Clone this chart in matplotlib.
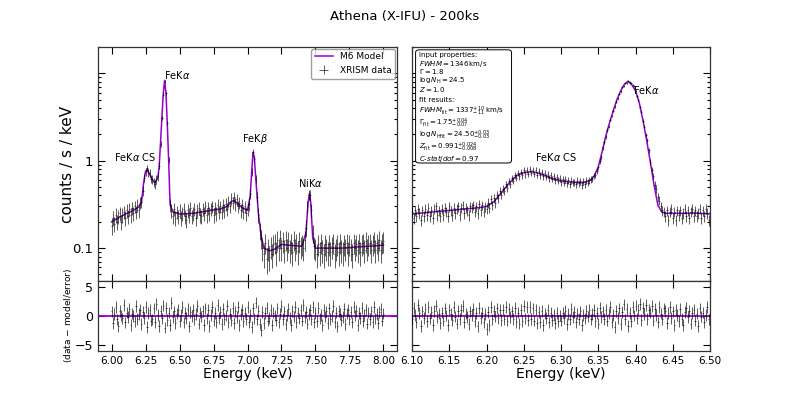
import numpy as np
import matplotlib.pyplot as plt
from matplotlib.patches import FancyBboxPatch
from matplotlib.ticker import FixedLocator, FixedFormatter, LogLocator, NullFormatter, MultipleLocator, FormatStrFormatter

MODEL_COLOR = "#9400d3"

# ---- left panel (6-8 keV) ----
# model curve
left_model_e = [6.00, 6.05, 6.10, 6.15, 6.20, 6.22, 6.235, 6.25, 6.265, 6.28, 6.30, 6.32,
                6.34, 6.35, 6.36, 6.37, 6.38, 6.39, 6.40, 6.41, 6.42, 6.43, 6.45, 6.50,
                6.60, 6.70, 6.80, 6.85, 6.88, 6.90, 6.93, 6.96, 7.00, 7.02, 7.03, 7.04,
                7.05, 7.06, 7.08, 7.10, 7.12, 7.16, 7.20, 7.25, 7.30, 7.40, 7.43, 7.445,
                7.455, 7.465, 7.48, 7.50, 7.60, 7.70, 7.80, 7.90, 8.00]
left_model_v = [0.200, 0.222, 0.245, 0.265, 0.295, 0.33, 0.55, 0.76, 0.79, 0.70, 0.60, 0.56,
                0.64, 0.85, 1.6, 3.1, 5.8, 8.3, 6.0, 2.6, 1.0, 0.32, 0.26, 0.245,
                0.25, 0.265, 0.28, 0.30, 0.34, 0.35, 0.32, 0.29, 0.27, 0.40, 0.72, 1.25,
                1.10, 0.65, 0.25, 0.14, 0.10, 0.093, 0.097, 0.11, 0.108, 0.105, 0.15, 0.32,
                0.42, 0.33, 0.13, 0.10, 0.10, 0.10, 0.103, 0.105, 0.108]

# data: 10 eV bins from 6.00 to 8.00 keV
left_bin_start, left_bin_width = 6.00, 0.01
left_counts = [
    0.18, 0.22, 0.19, 0.24, 0.20, 0.23, 0.25, 0.20, 0.24, 0.26,
    0.22, 0.27, 0.23, 0.28, 0.24, 0.29, 0.25, 0.30, 0.26, 0.31,
    0.27, 0.33, 0.34, 0.45, 0.64, 0.74, 0.82, 0.72, 0.73, 0.62,
    0.61, 0.57, 0.54, 0.61, 0.66, 0.88, 1.55, 3.1, 5.7, 8.1,
    5.9, 2.7, 1.02, 0.31, 0.27, 0.23, 0.28, 0.22, 0.26, 0.23,
    0.27, 0.22, 0.25, 0.28, 0.23, 0.21, 0.27, 0.24, 0.29, 0.23,
    0.25, 0.28, 0.22, 0.27, 0.29, 0.24, 0.23, 0.28, 0.25, 0.30,
    0.24, 0.29, 0.25, 0.28, 0.30, 0.24, 0.29, 0.25, 0.31, 0.26,
    0.30, 0.26, 0.31, 0.27, 0.32, 0.28, 0.34, 0.30, 0.37, 0.33,
    0.38, 0.32, 0.36, 0.30, 0.33, 0.27, 0.31, 0.26, 0.30, 0.25,
    0.28, 0.32, 0.42, 0.75, 1.25, 1.05, 0.62, 0.38, 0.24, 0.16,
    0.13, 0.10, 0.085, 0.115, 0.075, 0.10, 0.08, 0.105, 0.085, 0.11,
    0.115, 0.09, 0.125, 0.10, 0.13, 0.10, 0.12, 0.095, 0.125, 0.10,
    0.12, 0.095, 0.115, 0.09, 0.125, 0.10, 0.115, 0.092, 0.12, 0.105,
    0.11, 0.10, 0.125, 0.17, 0.30, 0.41, 0.40, 0.27, 0.15, 0.105,
    0.10, 0.085, 0.11, 0.09, 0.115, 0.095, 0.085, 0.11, 0.10, 0.09,
    0.11, 0.09, 0.105, 0.115, 0.085, 0.10, 0.11, 0.09, 0.115, 0.095,
    0.09, 0.11, 0.10, 0.115, 0.09, 0.11, 0.10, 0.085, 0.115, 0.10,
    0.11, 0.095, 0.115, 0.09, 0.11, 0.115, 0.095, 0.12, 0.10, 0.11,
    0.115, 0.095, 0.11, 0.12, 0.095, 0.115, 0.10, 0.125, 0.095, 0.115, 0.12,
]
left_resid = [
    0.8, -1.2, 0.3, 1.5, -0.6, -1.8, 0.9, 0.1, -0.4, 1.9,
    -1.1, 0.6, -0.2, 1.2, -1.6, 0.4, 0.0, -0.9, 1.7, -0.5,
    0.3, 1.1, -1.4, 0.7, -0.3, 1.6, -1.9, 0.5, 1.0, -0.8,
    -0.6, 1.3, -1.0, 2.1, 0.2, -1.7, 0.9, -0.4, 1.8, -2.0,
    1.4, -0.7, 0.6, -1.5, 2.2, -0.2, 0.8, -1.2, 0.4, 1.0,
    -0.9, 0.2, 1.5, -1.1, 0.5, -0.3, 1.2, -1.8, 0.7, 0.0,
    1.1, -0.6, 0.3, 1.7, -1.3, 0.6, -0.1, 0.9, -1.5, 1.3,
    -0.4, 1.0, -1.7, 0.2, 1.6, -0.8, 0.5, -1.0, 1.9, -0.3,
    0.7, -1.4, 1.2, -0.5, 0.1, 1.8, -1.1, 0.4, -0.7, 1.4,
    -1.2, 0.8, -0.2, 1.5, -1.6, 0.3, 1.1, -0.9, 0.6, -0.5,
    1.6, -1.0, 0.2, -1.9, 1.3, -0.4, 2.3, -0.6, 0.9, -1.3,
    -2.4, 0.7, -1.2, 0.5, 1.4, -0.8, -0.3, 1.0, -1.5, 0.6,
    0.1, -0.7, 1.3, -1.1, 0.4, 1.7, -0.5, 0.8, -1.4, 0.2,
    1.2, -0.3, -1.6, 0.9, -0.1, 1.5, -1.0, 0.6, -0.4, 1.1,
    -0.8, 1.9, -0.2, 0.7, -1.3, 0.3, 1.0, -0.6, 1.6, -1.1,
    0.5, -0.9, 1.4, -0.4, 0.2, -1.5, 1.1, -0.1, 0.8, -1.2,
    1.3, -0.5, 0.0, 1.7, -1.0, 0.6, -1.8, 0.9, 0.3, -0.7,
    -0.2, 1.2, -1.4, 0.4, 1.0, -0.6, 0.7, -1.1, 1.5, 0.1,
    0.9, -1.6, 0.5, -0.3, 1.4, -0.9, 0.2, 1.1, -1.3, 0.6,
    -0.5, 0.8, -1.0, 1.6, -0.4, 0.3, -1.2, 0.7, 1.2, -0.8,
    0.4,
]

# ---- right panel (6.1-6.5 keV zoom) ----
right_model_e = [6.10, 6.15, 6.19, 6.20, 6.21, 6.22, 6.23, 6.24, 6.25, 6.26, 6.27, 6.28,
                 6.29, 6.30, 6.31, 6.32, 6.33, 6.34, 6.345, 6.35, 6.355, 6.36, 6.365, 6.37,
                 6.375, 6.38, 6.385, 6.39, 6.395, 6.40, 6.405, 6.41, 6.415, 6.42, 6.425, 6.43,
                 6.435, 6.44, 6.46, 6.48, 6.50]
right_model_v = [0.246, 0.27, 0.29, 0.30, 0.34, 0.43, 0.55, 0.67, 0.73, 0.75, 0.72, 0.67,
                 0.62, 0.59, 0.575, 0.565, 0.56, 0.60, 0.68, 0.85, 1.25, 1.9, 2.7, 3.7,
                 5.0, 6.3, 7.5, 8.1, 7.4, 6.3, 4.6, 2.9, 1.7, 0.95, 0.52, 0.31,
                 0.26, 0.25, 0.25, 0.252, 0.246]

# data: 2 eV bins from 6.100 to 6.500 keV
right_bin_start, right_bin_width = 6.10, 0.002
right_counts = [
    0.26, 0.22, 0.27, 0.23, 0.28, 0.25, 0.21, 0.27, 0.23, 0.28,
    0.24, 0.29, 0.23, 0.27, 0.22, 0.28, 0.30, 0.24, 0.27, 0.23,
    0.28, 0.24, 0.29, 0.26, 0.23, 0.30, 0.27, 0.24, 0.29, 0.25,
    0.28, 0.30, 0.24, 0.29, 0.31, 0.25, 0.29, 0.27, 0.24, 0.30,
    0.29, 0.31, 0.26, 0.30, 0.25, 0.32, 0.27, 0.31, 0.26, 0.30,
    0.28, 0.33, 0.29, 0.36, 0.31, 0.37, 0.33, 0.41, 0.37, 0.45,
    0.41, 0.48, 0.45, 0.54, 0.49, 0.58, 0.54, 0.63, 0.59, 0.68,
    0.64, 0.72, 0.66, 0.75, 0.68, 0.78, 0.70, 0.79, 0.71, 0.80,
    0.72, 0.79, 0.71, 0.78, 0.69, 0.76, 0.68, 0.75, 0.66, 0.72,
    0.65, 0.70, 0.63, 0.68, 0.62, 0.66, 0.60, 0.65, 0.59, 0.63,
    0.57, 0.62, 0.56, 0.61, 0.55, 0.60, 0.54, 0.59, 0.56, 0.57,
    0.54, 0.59, 0.55, 0.58, 0.53, 0.58, 0.54, 0.59, 0.56, 0.60,
    0.61, 0.62, 0.67, 0.69, 0.77, 0.84, 0.99, 1.10, 1.42, 1.63,
    1.88, 2.25, 2.45, 2.95, 3.25, 3.75, 4.15, 4.75, 5.15, 5.85,
    6.2, 6.9, 7.2, 7.7, 7.8, 8.2, 7.9, 7.8, 7.4, 7.1,
    6.35, 5.5, 4.95, 4.1, 3.65, 2.85, 2.45, 1.95, 1.72, 1.32,
    0.97, 0.78, 0.67, 0.53, 0.48, 0.38, 0.35, 0.30, 0.27, 0.26,
    0.23, 0.27, 0.21, 0.26, 0.28, 0.22, 0.26, 0.21, 0.27, 0.24,
    0.27, 0.22, 0.25, 0.28, 0.23, 0.27, 0.22, 0.26, 0.28, 0.23,
    0.27, 0.23, 0.25, 0.28, 0.22, 0.27, 0.23, 0.28, 0.25, 0.21, 0.26,
]
right_resid = [
    -0.6, 1.4, 0.2, -1.1, 1.9, 0.5, -1.7, 0.8, -0.3, 1.2,
    -0.9, 1.6, -0.4, 0.7, -1.5, 0.9, 1.8, -0.2, 0.4, -1.2,
    0.6, -0.8, 1.3, 0.1, -1.6, 1.1, 0.3, -0.7, 1.5, -0.1,
    -1.3, 0.9, -0.5, 1.0, 1.7, -1.0, 0.4, -0.2, -1.4, 0.8,
    0.2, 1.2, -0.9, 0.5, -1.8, 1.4, -0.3, 0.6, -1.1, 0.3,
    -2.2, 0.7, -1.5, 1.6, -0.6, 0.9, -0.1, 1.3, -0.4, 1.0,
    -0.7, 1.1, -0.6, 1.5, -0.8, 1.2, -0.2, 0.8, -0.5, 1.4,
    -1.0, 0.6, -1.3, 1.0, -0.9, 1.7, -0.4, 1.5, -0.7, 1.6,
    -0.5, 1.3, -0.8, 1.1, -1.2, 0.7, -1.0, 0.9, -1.5, 0.4,
    -0.3, 1.0, -1.1, 0.6, -0.7, 0.2, -1.2, 0.5, -0.9, 0.1,
    -0.8, 0.6, -0.3, 0.9, -1.4, 0.3, -0.6, 1.2, -0.2, 0.7,
    -1.1, 0.4, -0.5, 0.8, -1.6, 0.2, -0.4, 0.9, -0.1, 1.1,
    -0.6, 0.3, 1.0, -0.9, 0.5, -1.3, 1.4, -0.2, 0.8, -0.5,
    1.1, -0.8, 0.4, 1.6, -1.1, 0.2, -1.9, 0.9, -0.3, 1.3,
    -1.4, 0.7, 2.0, -0.6, 1.2, -1.7, 0.5, -0.9, 1.5, 0.1,
    1.8, -0.4, 1.1, 2.1, -0.7, 1.4, 0.3, 1.9, -0.5, 1.0,
    0.6, 1.7, -0.8, 1.2, 0.2, -1.1, 1.5, 0.4, -0.6, 1.3,
    0.9, -1.2, 0.5, 1.6, -0.3, 0.8, -1.5, 1.0, 0.2, -0.9,
    1.2, -0.5, -1.6, 0.7, 1.4, -0.2, 0.9, -1.3, 0.5, 1.1,
    -0.8, 0.4, -1.7, 1.3, -0.1, 0.6, -1.0, 0.2, 1.5, -0.6,
    0.3,
]

# size of a 1 count/s/keV error bar (Poisson-like scaling)
left_err_unit = 0.09
right_err_unit = 0.07

info_lines = [
    "Input properties:",
    r"$FWHM = 1346\,\mathrm{km/s}$",
    r"$\Gamma = 1.8$",
    r"$\log N_\mathrm{H} = 24.5$",
    r"$Z = 1.0$",
    "fit results:",
    r"$FWHM_\mathrm{fit} = 1337^{+10}_{-11}\ \mathrm{km/s}$",
    r"$\Gamma_\mathrm{fit} = 1.75^{+0.04}_{-0.07}$",
    r"$\log N_\mathrm{Hfit} = 24.50^{+0.03}_{-0.03}$",
    r"$Z_\mathrm{fit} = 0.991^{+0.024}_{-0.008}$",
    r"$C\text{-}stat/dof = 0.97$",
]
# vertical position of each info line (axes fraction)
info_y = [0.9658, 0.9295, 0.8932, 0.8568, 0.8205,
          0.7735, 0.7265, 0.6752, 0.6239, 0.5726, 0.5256]


def bin_centres(start, width, n):
    return np.round(start + width * np.arange(n), 4)


def style_axes(ax):
    ax.tick_params(which="both", direction="in", top=True, right=True,
                   labelsize=7.5, width=0.8)
    ax.tick_params(which="major", length=5)
    ax.tick_params(which="minor", length=2.5)
    for sp in ax.spines.values():
        sp.set_linewidth(0.9)
        sp.set_color("#333333")


def draw_spectrum(ax, axr, e, counts, resid, width, err_unit, m_e, m_v):
    counts = np.array(counts)
    err = err_unit * np.sqrt(counts)
    ax.plot(m_e, m_v, color=MODEL_COLOR, lw=1.1, zorder=2, label="M6 Model")
    ax.errorbar(e, counts, yerr=err, xerr=width / 2, fmt="none", ecolor="black",
                elinewidth=0.6, alpha=0.75, zorder=3, label="XRISM data")
    axr.axhline(0, color=MODEL_COLOR, lw=1.3, zorder=2)
    axr.errorbar(e, resid, yerr=1.0, xerr=width / 2, fmt="none", ecolor="black",
                 elinewidth=0.6, alpha=0.75, zorder=3)


fig = plt.figure(figsize=(7.89, 3.95), dpi=100)
ax1 = fig.add_axes([0.1242, 0.2886, 0.379, 0.5924])
ax1r = fig.add_axes([0.1242, 0.1114, 0.379, 0.1772], sharex=ax1)
ax2 = fig.add_axes([0.5222, 0.2886, 0.3777, 0.5924], sharey=ax1)
ax2r = fig.add_axes([0.5222, 0.1114, 0.3777, 0.1772], sharex=ax2, sharey=ax1r)

e_left = bin_centres(left_bin_start, left_bin_width, len(left_counts))
e_right = bin_centres(right_bin_start, right_bin_width, len(right_counts))
draw_spectrum(ax1, ax1r, e_left, left_counts, left_resid, left_bin_width,
              left_err_unit, left_model_e, left_model_v)
draw_spectrum(ax2, ax2r, e_right, right_counts, right_resid, right_bin_width,
              right_err_unit, right_model_e, right_model_v)

for ax in (ax1, ax1r, ax2, ax2r):
    style_axes(ax)

ax1.set_yscale("log")
ax1.set_ylim(0.042, 20)
ax1.yaxis.set_major_locator(FixedLocator([0.1, 1, 10]))
ax1.yaxis.set_major_formatter(FixedFormatter(["0.1", "1", ""]))
ax1.yaxis.set_minor_locator(LogLocator(base=10, subs=np.arange(2, 10)))
ax1.yaxis.set_minor_formatter(NullFormatter())
ax1.tick_params(axis="y", labelsize=9.5)
ax2.tick_params(axis="y", which="both", labelleft=False)

ax1.set_xlim(5.9, 8.1)
ax1.xaxis.set_major_locator(MultipleLocator(0.25))
ax1.xaxis.set_major_formatter(FormatStrFormatter("%.2f"))
ax2.set_xlim(6.1, 6.5)
ax2.xaxis.set_major_locator(MultipleLocator(0.05))
ax2.xaxis.set_major_formatter(FormatStrFormatter("%.2f"))
ax1.tick_params(axis="x", labelbottom=False)
ax2.tick_params(axis="x", labelbottom=False)

ax1r.set_ylim(-6, 6)
ax1r.set_yticks([-5, 0, 5])
ax1r.tick_params(axis="y", labelsize=9)
ax2r.tick_params(axis="y", labelleft=False)

ax1r.set_xlabel("Energy (keV)", fontsize=10, labelpad=1)
ax2r.set_xlabel("Energy (keV)", fontsize=10, labelpad=1)
ax1.set_ylabel("counts / s / keV", fontsize=11)
ax1r.set_ylabel("(data $-$ model/error)", fontsize=6.5)
ax1.yaxis.set_label_coords(-0.078, 0.5)
ax1r.yaxis.set_label_coords(-0.08, 0.5)

# line labels
ann = dict(fontsize=7, ha="center", va="center")
ax1.text(6.17, 1.1, r"FeK$\alpha$ CS", **ann)
ax1.text(6.48, 9.5, r"FeK$\alpha$", **ann)
ax1.text(7.055, 1.75, r"FeK$\beta$", **ann)
ax1.text(7.46, 0.55, r"NiK$\alpha$", **ann)
ax2.text(6.293, 1.09, r"FeK$\alpha$ CS", **ann)
ax2.text(6.414, 6.5, r"FeK$\alpha$", **ann)

ax1.legend(loc="upper right", fontsize=6.5, frameon=True, fancybox=True,
           borderaxespad=0.2, handlelength=2.0, edgecolor="#888888")

# input / fit properties box
ax2.add_patch(FancyBboxPatch((0.012, 0.5043), 0.322, 0.4837, transform=ax2.transAxes,
                             boxstyle="round,pad=0,rounding_size=0.012",
                             fc="white", ec="black", lw=0.7, zorder=5))
for line, y in zip(info_lines, info_y):
    ax2.text(0.022, y, line, transform=ax2.transAxes, ha="left", va="center",
             fontsize=5.0, zorder=6)

fig.suptitle("Athena (X-IFU) - 200ks", x=0.513, y=0.975, fontsize=9.5)

fig.savefig("out.png", dpi=100)
